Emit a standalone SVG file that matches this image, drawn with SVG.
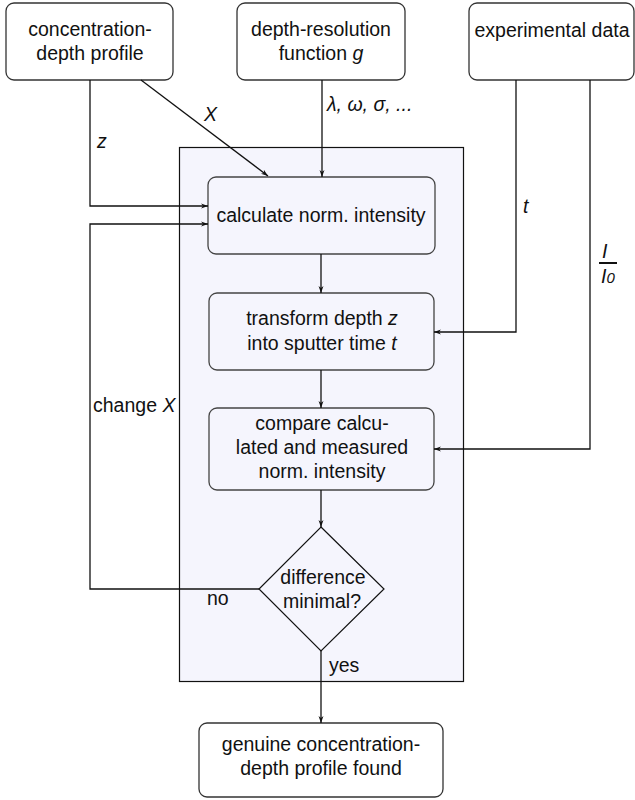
<svg xmlns="http://www.w3.org/2000/svg" width="635" height="800" viewBox="0 0 635 800">
<style>
text{font-family:"Liberation Sans",Arial,sans-serif;font-size:19.5px;fill:#111}
.c{text-anchor:middle}
.i{font-style:italic}
.box{fill:#fff;stroke:#333;stroke-width:1.3}
.inner{fill:#f5f5fd;stroke:#444;stroke-width:1.3}
.ln{fill:none;stroke:#111;stroke-width:1.3}
</style>
<defs>
<marker id="ar" viewBox="0 0 10 10" refX="10" refY="5" markerWidth="7" markerHeight="7" markerUnits="userSpaceOnUse" orient="auto">
<path d="M0,1.5 L10,5 L0,8.5 L3,5 Z" fill="#111"/>
</marker>
</defs>
<g id="container"><rect x="179.5" y="147.5" width="284" height="534" fill="#f5f5fd" stroke="#111" stroke-width="1.2"/></g>
<g id="n1"><rect class="box" x="6" y="3" width="167" height="77" rx="8"/><text class="c" x="90" y="36">concentration-</text><text class="c" x="90" y="60">depth profile</text></g>
<g id="n2"><rect class="box" x="237" y="3" width="168" height="77" rx="8"/><text class="c" x="321" y="36">depth-resolution</text><text class="c" x="321" y="60">function <tspan class="i">g</tspan></text></g>
<g id="n3"><rect class="box" x="469" y="3" width="165" height="77" rx="8"/><text class="c" x="552" y="37">experimental data</text></g>
<g id="n4"><rect class="inner" x="208" y="177" width="227" height="77" rx="8"/><text class="c" x="321" y="222">calculate norm.  intensity</text></g>
<g id="n5"><rect class="inner" x="209" y="293" width="225" height="77" rx="8"/><text class="c" x="322" y="325">transform depth <tspan class="i">z</tspan></text><text class="c" x="322" y="350">into sputter time <tspan class="i">t</tspan></text></g>
<g id="n6"><rect class="inner" x="209" y="408" width="225" height="82" rx="8"/><text class="c" x="322" y="430">compare calcu-</text><text class="c" x="322" y="454">lated and measured</text><text class="c" x="322" y="478">norm.  intensity</text></g>
<g id="n7"><path d="M321,527 L384,589 L321,651 L259,589 Z" fill="#f5f5fd" stroke="#111" stroke-width="1.2"/><text class="c" x="323" y="584">difference</text><text class="c" x="322" y="608">minimal?</text></g>
<g id="n8"><rect class="box" x="199" y="723" width="244" height="74" rx="8"/><text class="c" x="321" y="751">genuine concentration-</text><text class="c" x="321" y="775">depth profile found</text></g>
<g id="connectors">
<path class="ln" d="M90,80 V206 H208" marker-end="url(#ar)"/>
<path class="ln" d="M141,80 L268,176" marker-end="url(#ar)"/>
<path class="ln" d="M322,80 V177" marker-end="url(#ar)"/>
<path class="ln" d="M516,80 V332 H434" marker-end="url(#ar)"/>
<path class="ln" d="M590,80 V449 H434" marker-end="url(#ar)"/>
<path class="ln" d="M321,254 V293" marker-end="url(#ar)"/>
<path class="ln" d="M321,370 V408" marker-end="url(#ar)"/>
<path class="ln" d="M321,490 V527" marker-end="url(#ar)"/>
<path class="ln" d="M259,589 H90 V224 H208" marker-end="url(#ar)"/>
<path class="ln" d="M321,651 V723" marker-end="url(#ar)"/>
</g>
<g id="labels">
<text class="i" x="97" y="148">z</text>
<text class="i" x="204" y="121" font-size="21">X</text>
<text class="i" x="327" y="111">λ, ω, σ, ...</text>
<text class="i" x="523" y="213">t</text>
<text class="i" x="602" y="258">I</text>
<line x1="599" y1="263" x2="617" y2="263" stroke="#111" stroke-width="2"/>
<text class="i" x="601" y="283">I<tspan font-size="15">0</tspan></text>
<text x="93" y="412">change <tspan class="i">X</tspan></text>
<text x="207" y="605">no</text>
<text x="329" y="672">yes</text>
</g>
</svg>
